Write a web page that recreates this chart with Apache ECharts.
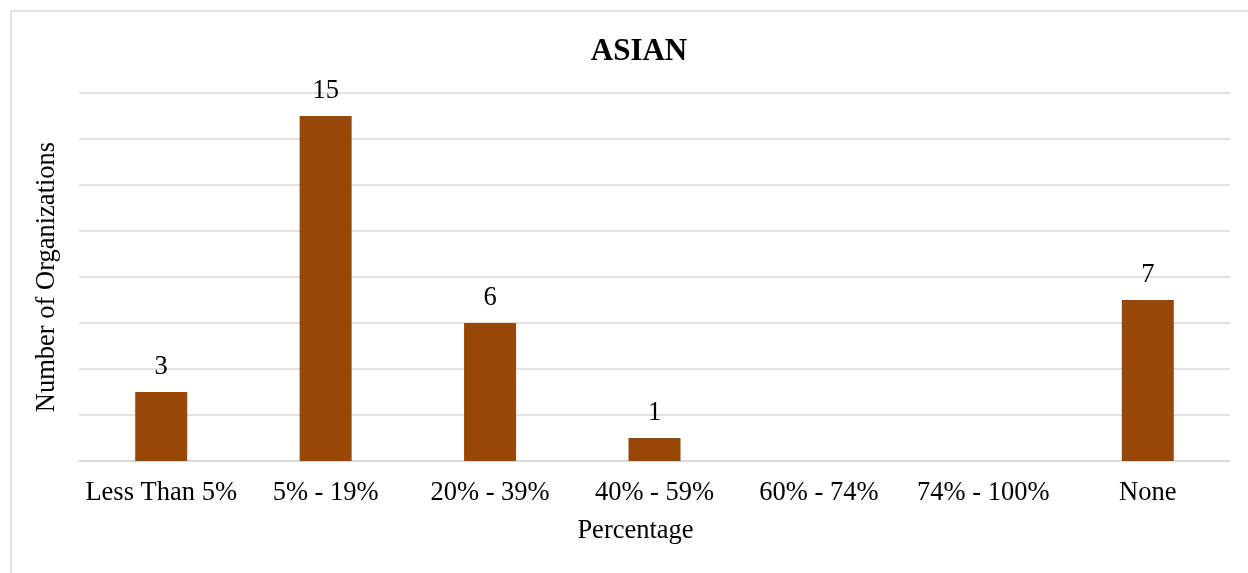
<!DOCTYPE html>
<html>
<head>
<meta charset="utf-8">
<style>
  html, body { margin: 0; padding: 0; background: #ffffff; }
  #chart { width: 1248px; height: 573px; }
</style>
<script src="https://cdn.jsdelivr.net/npm/echarts@6/dist/echarts.min.js"></script>
</head>
<body>
<div id="chart"></div>
<script>
// Share of Asian staff, grouped by percentage band
const categories = ['Less Than 5%', '5% - 19%', '20% - 39%', '40% - 59%', '60% - 74%', '74% - 100%', 'None'];
const organizations = [3, 15, 6, 1, 0, 0, 7];

const FONT = '"Liberation Serif", "Times New Roman", serif';
const BAR = '#974706';
const GRID = '#d9d9d9';

const chart = echarts.init(document.getElementById('chart'), null, { renderer: 'canvas' });

chart.setOption({
  backgroundColor: '#ffffff',
  animation: false,
  graphic: [{
    type: 'rect',
    shape: { x: 11, y: 11, width: 1260, height: 600 },
    style: { fill: 'none', stroke: GRID, lineWidth: 1.5 },
    silent: true
  }],
  title: {
    text: 'ASIAN',
    left: 634,
    textAlign: 'center',
    top: 31,
    textStyle: { fontFamily: FONT, fontSize: 31, fontWeight: 'bold', color: '#000000' }
  },
  grid: { left: 79, right: 18, top: 93, bottom: 112, containLabel: false },
  xAxis: {
    type: 'category',
    data: categories,
    name: 'Percentage',
    nameLocation: 'middle',
    nameGap: 57,
    nameTextStyle: { fontFamily: FONT, fontSize: 26.5, color: '#000000', padding: [0, 38, 0, 0] },
    axisLine: { show: true, lineStyle: { color: GRID, width: 1.5 } },
    axisTick: { show: false },
    axisLabel: { fontFamily: FONT, fontSize: 26.5, color: '#000000', margin: 19, interval: 0 }
  },
  yAxis: {
    type: 'value',
    min: 0,
    max: 16,
    interval: 2,
    name: 'Number of Organizations',
    nameLocation: 'middle',
    nameGap: 18,
    nameTextStyle: { fontFamily: FONT, fontSize: 26.5, color: '#000000' },
    axisLine: { show: false },
    axisTick: { show: false },
    axisLabel: { show: false },
    splitLine: { show: true, lineStyle: { color: GRID, width: 1.5 } }
  },
  series: [{
    type: 'bar',
    data: organizations.map(v => (v === 0 ? null : v)),
    barWidth: 52,
    itemStyle: { color: BAR },
    label: {
      show: true,
      position: 'top',
      distance: 11,
      fontFamily: FONT,
      fontSize: 26.5,
      color: '#000000'
    }
  }]
});
</script>
</body>
</html>
